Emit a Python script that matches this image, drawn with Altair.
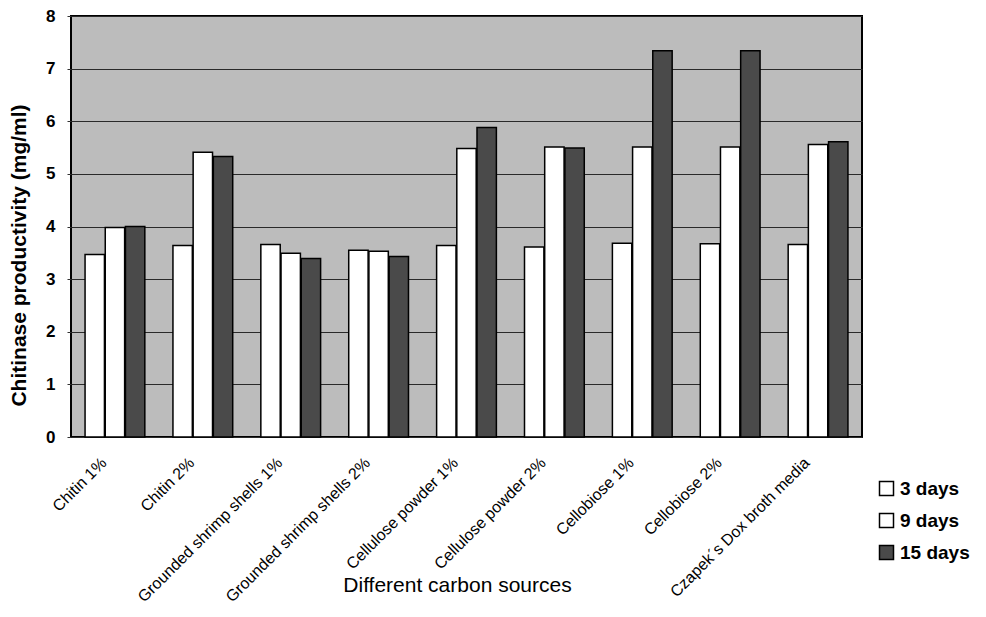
import altair as alt
import pandas as pd

categories = [
    "Chitin 1%", "Chitin 2%", "Grounded shrimp shells 1%", "Grounded shrimp shells 2%",
    "Cellulose powder 1%", "Cellulose powder 2%", "Cellobiose 1%", "Cellobiose 2%",
    "Czapek\u00b4s Dox broth media",
]
series_names = ["3 days", "9 days", "15 days"]
days3 = [3.47, 3.64, 3.66, 3.55, 3.64, 3.61, 3.68, 3.67, 3.66]
days9 = [3.98, 5.41, 3.49, 3.53, 5.48, 5.51, 5.51, 5.51, 5.56]
days15 = [4.00, 5.33, 3.39, 3.43, 5.88, 5.49, 7.34, 7.34, 5.61]
y_ticks = [0, 1, 2, 3, 4, 5, 6, 7, 8]
fill_colors = ["#ffffff", "#ffffff", "#4a4a4a"]

rows = []
for name, vals in zip(series_names, [days3, days9, days15]):
    for c, v in zip(categories, vals):
        rows.append({"source": c, "period": name, "value": v})
df = pd.DataFrame(rows)

FONT = "Liberation Sans"

bars = alt.Chart(df).mark_bar(stroke="black", strokeWidth=1.5).encode(
    x=alt.X("source:N", sort=categories,
            scale=alt.Scale(paddingInner=0.32, paddingOuter=0.16),
            axis=alt.Axis(title="Different carbon sources", labelAngle=-45,
                          labelAlign="right", labelBaseline="middle",
                          labelPadding=23, labelOffset=-11,
                          labelFontSize=16, labelFont=FONT, labelColor="black",
                          labelLimit=400, labelOverlap=False,
                          ticks=False, domain=False, grid=False,
                          titleFont=FONT, titleFontSize=21, titleFontWeight="normal",
                          titleColor="black", titleX=386, titleY=154,
                          titleBaseline="alphabetic", titleAlign="center")),
    xOffset=alt.XOffset("period:N", sort=series_names,
                        scale=alt.Scale(paddingInner=0.04, paddingOuter=0)),
    y=alt.Y("value:Q", scale=alt.Scale(domain=[0, 8], nice=False),
            axis=alt.Axis(title="Chitinase productivity (mg/ml)",
                          values=y_ticks, labelOverlap=False,
                          labelFont=FONT, labelFontSize=17, labelFontWeight="bold",
                          labelColor="black", labelPadding=12,
                          ticks=True, tickSize=4, tickColor="#333",
                          grid=True, gridColor="#2a2a2a", gridWidth=1,
                          domain=False,
                          titleFont=FONT, titleFontSize=21, titleFontWeight="bold",
                          titleColor="black", titleX=-52, titleY=239,
                          titleBaseline="middle", titleAlign="center")),
    fill=alt.Fill("period:N", sort=series_names,
                  scale=alt.Scale(domain=series_names, range=fill_colors),
                  legend=alt.Legend(title=None, orient="none", legendX=806, legendY=463,
                                    symbolType="square", symbolSize=196,
                                    symbolStrokeColor="black", symbolStrokeWidth=1.5,
                                    labelFont=FONT, labelFontSize=19, labelFontWeight="bold",
                                    labelColor="black", rowPadding=11, labelOffset=4)),
)

chart = bars.properties(
    width=791, height=421,
    autosize=alt.AutoSizeParams(type="none"),
    padding={"left": 63, "top": 8, "right": 116, "bottom": 172},
    background="white",
).configure_view(
    fill="#bcbcbc", stroke="black", strokeWidth=2
)

chart.save("out.html", embed_options={"renderer": "svg", "actions": False})
